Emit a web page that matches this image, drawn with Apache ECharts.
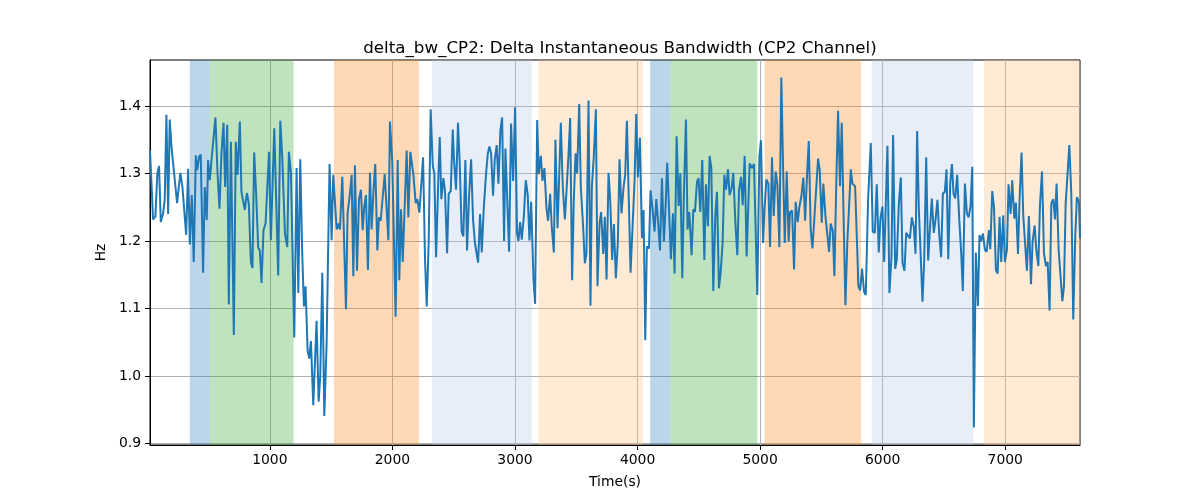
<!DOCTYPE html>
<html>
<head>
<meta charset="utf-8">
<script src="https://cdn.jsdelivr.net/npm/echarts@6/dist/echarts.min.js"></script>
<style>
  html, body { margin: 0; padding: 0; background: #fff; }
  #chart { width: 1200px; height: 500px; }
</style>
</head>
<body>
<div id="chart"></div>
<script>
// time stamps (s) of the delta bandwidth trace
const time = [
  22, 47, 66, 82, 96, 110, 129, 142, 156, 170, 183, 197, 213, 230, 243, 257, 270, 287, 300, 317,
  333, 347, 363, 379, 396, 407, 423, 436, 455, 469, 485, 496, 510, 524, 540, 556, 573, 589, 605, 622,
  635, 652, 665, 682, 706, 722, 736, 755, 768, 782, 796, 812, 828, 845, 858, 872, 888, 905, 918, 932,
  948, 965,
  993, 1008, 1036, 1068, 1085, 1101, 1123, 1142, 1155, 1172, 1199, 1218, 1232, 1248, 1264, 1278, 1291, 1308,
  1321, 1335, 1354, 1381, 1398, 1411, 1428, 1444, 1463, 1487, 1504, 1517, 1531, 1545, 1558, 1572, 1591, 1621,
  1634, 1653, 1667, 1681, 1694, 1711, 1727, 1743, 1757, 1770, 1784, 1800, 1817, 1830, 1847, 1860, 1877, 1890,
  1904, 1917, 1937,
  1967, 1980, 1999, 2026, 2043, 2056, 2070, 2084, 2116, 2130, 2146, 2171, 2190, 2203, 2220, 2233, 2250, 2266,
  2280, 2296, 2312, 2329, 2342, 2356, 2375, 2386, 2399, 2416, 2429, 2446, 2459, 2476, 2492, 2503, 2519, 2535,
  2549, 2565, 2579, 2595, 2609, 2625, 2642, 2658, 2674, 2699, 2715, 2729, 2745, 2764, 2778, 2791, 2805, 2821,
  2835, 2851, 2865, 2881, 2895, 2911, 2922,
  2952, 2968, 2985, 3001, 3017, 3028, 3042, 3055, 3072, 3088, 3104, 3118, 3132, 3151, 3164, 3181, 3194, 3211,
  3224, 3240, 3257, 3270, 3287, 3300, 3317, 3330, 3347, 3358, 3374, 3390, 3407, 3420, 3436, 3450, 3466, 3480,
  3494, 3507, 3524, 3537, 3556, 3570, 3583, 3600, 3616, 3627, 3643, 3660, 3673, 3690, 3703, 3720, 3733, 3747,
  3763, 3777, 3793, 3807, 3823, 3839, 3853, 3869, 3886, 3899, 3913,
  3943, 3976, 3989, 4003, 4019, 4036, 4049, 4063, 4076, 4093, 4106, 4123, 4139, 4153, 4169, 4183, 4199, 4215,
  4229, 4242, 4259, 4272, 4289, 4302, 4319, 4335, 4349, 4365, 4378, 4395, 4408, 4422, 4441, 4455, 4468, 4485,
  4498, 4512, 4528, 4545, 4558, 4574, 4588, 4602, 4618, 4634, 4648, 4664, 4678, 4694, 4708, 4722, 4738, 4751,
  4768, 4781, 4798, 4814, 4828, 4844, 4858, 4874, 4890, 4915,
  4934, 4950, 4977, 4994, 5007, 5024, 5037, 5051, 5067, 5081, 5097, 5111, 5127, 5141, 5157, 5173, 5187, 5201,
  5217, 5233, 5244, 5261, 5277, 5290, 5307, 5320, 5337, 5353, 5367, 5383, 5397, 5413, 5427, 5443, 5457, 5473,
  5486, 5503, 5516, 5533, 5546, 5563, 5576, 5593, 5606, 5620, 5636, 5652, 5666, 5680, 5696, 5712, 5726, 5740,
  5753, 5775, 5789, 5802, 5816, 5832, 5848, 5862,
  5881, 5903, 5919, 5936, 5952, 5968, 5982, 5998, 6012, 6039, 6055, 6072, 6085, 6102, 6115, 6132, 6148, 6162,
  6178, 6192, 6208, 6222, 6238, 6254, 6268, 6281, 6295, 6309, 6325, 6339, 6355, 6371, 6388, 6401, 6417, 6431,
  6447, 6461, 6477, 6491, 6507, 6521, 6535, 6551, 6565, 6578, 6592, 6608, 6624, 6641, 6654, 6671, 6687, 6701,
  6717, 6731, 6744, 6760, 6777, 6790, 6801, 6818, 6834, 6848,
  6867, 6878, 6894, 6908, 6924, 6938, 6954, 6967, 6984, 6997, 7014, 7027, 7044, 7057, 7074, 7087, 7104, 7117,
  7133, 7147, 7161, 7177, 7193, 7210, 7223, 7240, 7253, 7270, 7283, 7300, 7316, 7332, 7346, 7362, 7376, 7392,
  7406, 7419, 7436, 7449, 7466, 7479, 7493, 7506, 7523, 7539, 7555, 7572, 7585, 7602, 7610
];

// delta instantaneous bandwidth (Hz)
const deltaBw = [
  1.334, 1.232, 1.236, 1.300, 1.311, 1.228, 1.241, 1.261, 1.387, 1.240, 1.380, 1.340, 1.341, 1.280, 1.256, 1.280, 1.301, 1.279, 1.279, 1.209,
  1.307, 1.195, 1.268, 1.169, 1.327, 1.305, 1.325, 1.328, 1.153, 1.280, 1.231, 1.320, 1.290, 1.320, 1.321, 1.383, 1.300, 1.248, 1.330, 1.375,
  1.280, 1.372, 1.106, 1.347, 1.061, 1.347, 1.298, 1.377, 1.273, 1.274, 1.246, 1.271, 1.256, 1.169, 1.160, 1.331, 1.270, 1.190, 1.186, 1.138,
  1.216, 1.226,
  1.332, 1.201, 1.367, 1.149, 1.378, 1.325, 1.211, 1.191, 1.332, 1.300, 1.057, 1.308, 1.123, 1.321, 1.182, 1.103, 1.133, 1.038,
  1.026, 1.052, 0.957, 1.082, 0.962, 0.999, 1.153, 0.941, 1.048, 1.314, 1.201, 1.298, 1.299, 1.217, 1.226, 1.217, 1.295, 1.099,
  1.241, 1.270, 1.298, 1.148, 1.312, 1.156, 1.262, 1.276, 1.216, 1.251, 1.268, 1.157, 1.301, 1.217, 1.280, 1.314, 1.186, 1.235,
  1.230, 1.232, 1.299,
  1.201, 1.377, 1.315, 1.088, 1.320, 1.142, 1.247, 1.169, 1.334, 1.235, 1.332, 1.298, 1.256, 1.262, 1.242, 1.243, 1.324, 1.172,
  1.103, 1.199, 1.395, 1.312, 1.300, 1.176, 1.294, 1.354, 1.262, 1.293, 1.274, 1.182, 1.270, 1.274, 1.365, 1.319, 1.276, 1.375,
  1.315, 1.214, 1.207, 1.320, 1.186, 1.266, 1.321, 1.231, 1.196, 1.168, 1.240, 1.183, 1.248, 1.300, 1.329, 1.340, 1.330, 1.267,
  1.321, 1.342, 1.285, 1.364, 1.383, 1.200, 1.337,
  1.184, 1.374, 1.289, 1.398, 1.212, 1.200, 1.228, 1.202, 1.236, 1.290, 1.268, 1.201, 1.258, 1.142, 1.107, 1.379, 1.299, 1.326,
  1.289, 1.308, 1.248, 1.230, 1.270, 1.221, 1.183, 1.350, 1.219, 1.280, 1.375, 1.280, 1.232, 1.273, 1.325, 1.382, 1.142, 1.261,
  1.330, 1.300, 1.403, 1.280, 1.221, 1.167, 1.182, 1.408, 1.104, 1.280, 1.325, 1.395, 1.133, 1.226, 1.243, 1.181, 1.236, 1.143,
  1.301, 1.261, 1.172, 1.225, 1.145, 1.197, 1.321, 1.241, 1.280, 1.298, 1.378,
  1.153, 1.291, 1.388, 1.294, 1.353, 1.204, 1.246, 1.053, 1.192, 1.189, 1.275, 1.246, 1.214, 1.262, 1.226, 1.186, 1.293, 1.199,
  1.252, 1.316, 1.237, 1.173, 1.241, 1.152, 1.355, 1.252, 1.300, 1.145, 1.268, 1.380, 1.217, 1.243, 1.179, 1.247, 1.243, 1.288,
  1.293, 1.243, 1.320, 1.172, 1.284, 1.222, 1.326, 1.308, 1.126, 1.236, 1.273, 1.130, 1.154, 1.197, 1.298, 1.276, 1.306, 1.268,
  1.279, 1.301, 1.228, 1.179, 1.275, 1.295, 1.253, 1.326, 1.177, 1.315,
  1.308, 1.314, 1.120, 1.325, 1.349, 1.197, 1.251, 1.291, 1.285, 1.191, 1.324, 1.237, 1.303, 1.283, 1.191, 1.442, 1.312, 1.197,
  1.303, 1.199, 1.243, 1.245, 1.158, 1.258, 1.228, 1.250, 1.267, 1.294, 1.230, 1.298, 1.348, 1.216, 1.189, 1.235, 1.235, 1.322,
  1.305, 1.227, 1.285, 1.237, 1.237, 1.184, 1.226, 1.215, 1.148, 1.273, 1.393, 1.281, 1.375, 1.246, 1.105, 1.201, 1.251, 1.306,
  1.285, 1.281, 1.206, 1.133, 1.127, 1.159, 1.125, 1.120,
  1.261, 1.345, 1.214, 1.212, 1.284, 1.183, 1.233, 1.251, 1.169, 1.341, 1.123, 1.177, 1.357, 1.159, 1.172, 1.256, 1.294, 1.168,
  1.156, 1.212, 1.210, 1.204, 1.235, 1.221, 1.181, 1.363, 1.248, 1.247, 1.110, 1.173, 1.324, 1.171, 1.225, 1.263, 1.212, 1.231,
  1.261, 1.211, 1.176, 1.270, 1.273, 1.306, 1.173, 1.285, 1.314, 1.270, 1.263, 1.298, 1.235, 1.181, 1.126, 1.285, 1.241, 1.235,
  1.252, 1.310, 0.924, 1.183, 1.104, 1.209, 1.199, 1.211, 1.187, 1.184,
  1.216, 1.188, 1.274, 1.251, 1.157, 1.152, 1.236, 1.169, 1.238, 1.169, 1.187, 1.284, 1.240, 1.290, 1.233, 1.257, 1.181, 1.261,
  1.331, 1.238, 1.199, 1.156, 1.237, 1.136, 1.199, 1.223, 1.188, 1.163, 1.252, 1.303, 1.182, 1.163, 1.169, 1.097, 1.256, 1.262,
  1.232, 1.285, 1.186, 1.184, 1.111, 1.132, 1.255, 1.256, 1.342, 1.270, 1.084, 1.211, 1.265, 1.257, 1.204
];

// shaded phases
const spanStart = [347, 510, 1523, 2323, 3191, 4103, 4269, 5037, 5911, 6825];
const spanEnd   = [510, 1193, 2216, 3137, 4043, 4269, 4977, 5824, 6739, 7610];
const spanColor = [
  'rgba(31,119,180,0.3)', 'rgba(44,160,44,0.3)', 'rgba(255,127,14,0.3)',
  'rgba(174,199,232,0.3)', 'rgba(255,187,120,0.3)',
  'rgba(31,119,180,0.3)', 'rgba(44,160,44,0.3)', 'rgba(255,127,14,0.3)',
  'rgba(174,199,232,0.3)', 'rgba(255,187,120,0.3)'
];

const xTicks = [1000, 2000, 3000, 4000, 5000, 6000, 7000];
const yTicks = [0.9, 1.0, 1.1, 1.2, 1.3, 1.4];

const chart = echarts.init(document.getElementById('chart'));

const lineData = time.map((t, i) => [t, deltaBw[i]]);
const areas = spanStart.map((s, i) => [
  { xAxis: s, itemStyle: { color: spanColor[i] } },
  { xAxis: spanEnd[i] }
]);

const font = 'DejaVu Sans';

chart.setOption({
  animation: false,
  backgroundColor: '#fff',
  textStyle: { fontFamily: font },
  title: {
    text: 'delta_bw_CP2: Delta Instantaneous Bandwidth (CP2 Channel)',
    left: 615,
    top: 35,
    textAlign: 'center',
    textStyle: { fontFamily: font, fontSize: 16.7, fontWeight: 'normal', color: '#000' }
  },
  grid: {
    left: 150, right: 120, top: 60, bottom: 55,
    show: true, borderColor: '#000', borderWidth: 1, backgroundColor: 'transparent'
  },
  xAxis: {
    type: 'value',
    min: 22,
    max: 7610,
    name: 'Time(s)',
    nameLocation: 'middle',
    nameGap: 30,
    nameTextStyle: { fontFamily: font, fontSize: 13.9, color: '#000' },
    axisLine: { show: true, onZero: false, lineStyle: { color: '#000', width: 1 } },
    axisTick: { show: true, length: 5, customValues: xTicks, lineStyle: { color: '#000' } },
    axisLabel: {
      customValues: xTicks, color: '#000', fontFamily: font, fontSize: 13.9, margin: 8,
      formatter: v => String(v)
    },
    splitLine: { show: true, lineStyle: { color: '#b0b0b0', width: 1 } }
  },
  yAxis: {
    type: 'value',
    min: 0.898,
    max: 1.468,
    name: 'Hz',
    nameLocation: 'middle',
    nameRotate: 90,
    nameGap: 38,
    nameTextStyle: { fontFamily: font, fontSize: 13.9, color: '#000' },
    axisLine: { show: true, onZero: false, lineStyle: { color: '#000', width: 1 } },
    axisTick: { show: true, length: 5, customValues: yTicks, lineStyle: { color: '#000' } },
    axisLabel: {
      customValues: yTicks, color: '#000', fontFamily: font, fontSize: 13.9, margin: 9,
      formatter: v => v.toFixed(1)
    },
    splitLine: { show: true, lineStyle: { color: '#b0b0b0', width: 1 } }
  },
  series: [
    {
      type: 'line',
      data: lineData,
      showSymbol: false,
      symbol: 'none',
      lineStyle: { color: '#1f77b4', width: 2 },
      markArea: { silent: true, data: areas }
    }
  ]
});
</script>
</body>
</html>
